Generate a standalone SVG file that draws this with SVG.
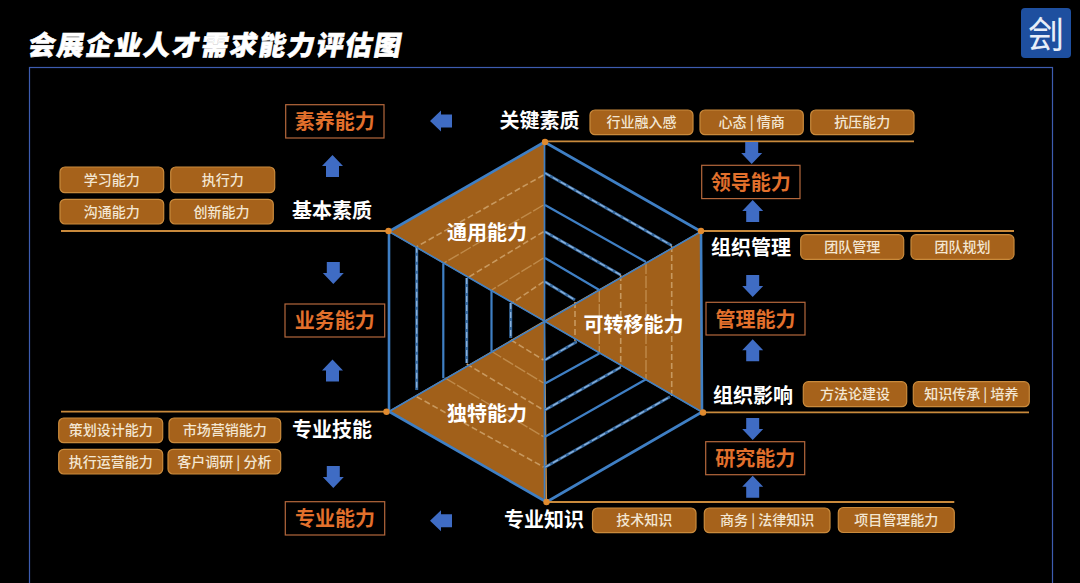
<svg xmlns="http://www.w3.org/2000/svg" width="1080" height="583" viewBox="0 0 1080 583">
<style>
text{font-family:"Noto Sans CJK SC","Noto Sans",sans-serif;text-anchor:middle;dominant-baseline:central}
.t{font-size:27px;font-weight:900;fill:#fff;letter-spacing:1.850px;text-anchor:start;stroke:#fff;stroke-width:.6px}
.tag rect{fill:#a6621b;stroke:#c98a3c;stroke-width:1.2}
.tag text{font-size:14px;font-weight:500;fill:#f3e6d2;transform:translateY(-1px)}
.cap rect{fill:#000;stroke:#b5683c;stroke-width:1.2}
.cap text{font-size:20px;font-weight:700;fill:#e2702c;transform:translateY(-1px)}
.lab{font-size:20px;font-weight:700;fill:#fff;transform:translateY(-1.500px)}
.rule{stroke:#c98a3c;stroke-width:1.8;fill:none}
.ar{fill:#3f6cc4}
.sec{fill:#a1601a;stroke:#c8934f;stroke-width:1.2}
.hex{fill:none;stroke:#3f7fc4;stroke-width:2.6;stroke-linejoin:round}
.spoke{stroke:#3f7fc4;stroke-width:1.6}
.bs{stroke:#3f7fc4;stroke-width:2.2;fill:none}
.bd{stroke:#36699f;stroke-width:3;fill:none}
.bdi{stroke:#8fb4dc;stroke-width:1.300;stroke-dasharray:6 3;fill:none}
.ps{stroke:#bf8a4a;stroke-width:1.4;stroke-dasharray:12 2;fill:none}
.pd{stroke:#c8995f;stroke-width:1.6;stroke-dasharray:6 3;fill:none}
.dot{fill:#e08a2e}
</style>
<defs>
<path id="up" class="ar" d="M0 0L10.500 11H6.500V22H-6.500V11H-10.500Z"/>
</defs>
<rect width="1080" height="583" fill="#000"/>
<text id="title" class="t" x="29" y="43" transform="translate(7.600 0) skewX(-10)">会展企业人才需求能力评估图</text>
<g id="logo"><rect x="1021" y="8" width="50" height="50" rx="4" fill="#1e4f9f"/><text x="1046" y="31.500" style="font-size:36px;font-weight:400;fill:#e8eef8">刽</text></g>
<rect id="frame" x="29.500" y="67.500" width="1023" height="530" fill="none" stroke="#3d5cb0" stroke-width="1.200"/>
<g id="hexagon">
<path class="sec" d="M544.500 321L544.500 142L389 231.500Z"/>
<path class="sec" d="M544.500 321L701 231.500L702 412Z"/>
<path class="sec" d="M544.500 321L389 411.500L546.500 502Z"/>
<g class="ps">
<path d="M543.500 205L443.300 263.300M543.500 258L491.700 290M646 262V379M599.300 290V353M445 378L543.500 436.700M491 351L543.500 383"/>
</g>
<g class="pd">
<path d="M543.500 175L416.700 246.700M543.500 231.700L466.700 278.300M543.500 281.700L511.700 303.300M671.700 246V396M620.700 275V367M575 302V341M416.700 396.700L543.500 467M466.700 364L543.500 410M511 340L543.500 360"/>
</g>
<g class="bs">
<path d="M545 205L646 262M545 258L599.300 290M545 383.500L599.300 353.500M545 436.700L646 379.300M443.300 263.300V378.300M491.500 290V351.700"/>
</g>
<g class="bd">
<path d="M545 173L671.700 245.500M545 231.700L620.700 275M545 281.700L575 300M545 360L576.700 341.700M545 410L620.700 367.300M545 467.300L670 396.700M416.700 246.700V390M466.700 278V363M510.700 303V338"/>
</g>
<g class="bdi">
<path d="M545 173L671.700 245.500M545 231.700L620.700 275M545 281.700L575 300M545 360L576.700 341.700M545 410L620.700 367.300M545 467.300L670 396.700M416.700 246.700V390M466.700 278V363M510.700 303V338"/>
</g>
<path class="hex" d="M544.500 142L701 231.500L702 412L546.500 502L389 411.500L389 231.500Z"/>
<path class="spoke" d="M544.500 142V502M389 231.500L702 412M389 411.500L701 231.500"/>
</g>
<g id="connectors">
<path class="rule" d="M545 141.300H914M700 231H1014M703 412.300H1029M546 502H954.300M61 231H389M61 411.700H388"/>
<use href="#up" transform="translate(751.700 164) rotate(180)"/>
<use href="#up" x="752.700" y="200"/>
<use href="#up" transform="translate(752.700 297) rotate(180)"/>
<use href="#up" x="752.700" y="339.300"/>
<use href="#up" transform="translate(752.700 440) rotate(180)"/>
<use href="#up" x="752.700" y="475.700"/>
<use href="#up" transform="translate(333.300 488) rotate(180)"/>
<use href="#up" x="332.500" y="359.500"/>
<use href="#up" transform="translate(333.300 284) rotate(180)"/>
<use href="#up" x="332.500" y="155"/>
<use href="#up" transform="translate(430 121) rotate(-90)"/>
<use href="#up" transform="translate(430 520.700) rotate(-90)"/>
</g>
<g id="dots">
<circle class="dot" cx="545" cy="142" r="3.200"/><circle class="dot" cx="701" cy="231" r="3.200"/><circle class="dot" cx="703" cy="412.500" r="3.200"/><circle class="dot" cx="546.500" cy="502" r="3.200"/><circle class="dot" cx="386.500" cy="411.700" r="3.200"/><circle class="dot" cx="388.500" cy="231" r="3.200"/>
</g>
<g id="sector-labels">
<text class="lab" x="487" y="233">通用能力</text>
<text class="lab" x="633.500" y="325">可转移能力</text>
<text class="lab" x="487" y="414">独特能力</text>
</g>
<g id="level-labels">
<text class="lab" x="539.500" y="121">关键素质</text>
<text class="lab" x="751" y="248">组织管理</text>
<text class="lab" x="753" y="396">组织影响</text>
<text class="lab" x="544" y="520">专业知识</text>
<text class="lab" x="332" y="430">专业技能</text>
<text class="lab" x="332" y="211">基本素质</text>
</g>
<g id="cap-suyang" class="cap"><rect x="285.700" y="104.700" width="98.300" height="33.300"/><text x="334.800" y="121.500">素养能力</text></g>
<g id="cap-lingdao" class="cap"><rect x="701.700" y="165.300" width="98.300" height="33.300"/><text x="750.800" y="182">领导能力</text></g>
<g id="cap-guanli" class="cap"><rect x="706" y="302.300" width="99" height="32.700"/><text x="755.500" y="319">管理能力</text></g>
<g id="cap-yanjiu" class="cap"><rect x="705.700" y="441.700" width="99" height="33"/><text x="755.200" y="458">研究能力</text></g>
<g id="cap-zhuanye" class="cap"><rect x="285.300" y="501.700" width="99.400" height="33.300"/><text x="335" y="518.500">专业能力</text></g>
<g id="cap-yewu" class="cap"><rect x="285" y="304" width="99.700" height="33"/><text x="334.800" y="320.500">业务能力</text></g>
<g id="tag-1" class="tag"><rect x="590" y="110" width="103" height="24.700" rx="5"/><text x="641.500" y="122.300">行业融入感</text></g>
<g id="tag-2" class="tag"><rect x="700" y="110" width="103.300" height="24.700" rx="5"/><text x="751.700" y="122.300">心态 | 情商</text></g>
<g id="tag-3" class="tag"><rect x="810.700" y="110" width="103.300" height="24.700" rx="5"/><text x="862.300" y="122.300">抗压能力</text></g>
<g id="tag-4" class="tag"><rect x="800.700" y="234.700" width="103" height="24.600" rx="5"/><text x="852.200" y="247">团队管理</text></g>
<g id="tag-5" class="tag"><rect x="911" y="234.700" width="103" height="24.600" rx="5"/><text x="962.500" y="247">团队规划</text></g>
<g id="tag-6" class="tag"><rect x="803.300" y="381.700" width="103.400" height="25" rx="5"/><text x="855" y="394.200">方法论建设</text></g>
<g id="tag-7" class="tag"><rect x="913.300" y="381.700" width="116" height="25" rx="5"/><text x="971.300" y="394.200">知识传承 | 培养</text></g>
<g id="tag-8" class="tag"><rect x="592.500" y="508" width="103.500" height="24.700" rx="5"/><text x="644.200" y="520.300">技术知识</text></g>
<g id="tag-9" class="tag"><rect x="704.300" y="508" width="125.700" height="24.700" rx="5"/><text x="767.200" y="520.300">商务 | 法律知识</text></g>
<g id="tag-10" class="tag"><rect x="838.300" y="507.500" width="116" height="25" rx="5"/><text x="896.300" y="520">项目管理能力</text></g>
<g id="tag-11" class="tag"><rect x="60" y="167" width="103.700" height="25.700" rx="5"/><text x="111.800" y="179.800">学习能力</text></g>
<g id="tag-12" class="tag"><rect x="170.700" y="167" width="104" height="25.700" rx="5"/><text x="222.700" y="179.800">执行力</text></g>
<g id="tag-13" class="tag"><rect x="60" y="199.300" width="103.700" height="24.700" rx="5"/><text x="111.800" y="211.600">沟通能力</text></g>
<g id="tag-14" class="tag"><rect x="170" y="199.300" width="103.300" height="24.700" rx="5"/><text x="221.600" y="211.600">创新能力</text></g>
<g id="tag-15" class="tag"><rect x="58.700" y="418" width="104" height="24.700" rx="5"/><text x="110.700" y="430.300">策划设计能力</text></g>
<g id="tag-16" class="tag"><rect x="169" y="418" width="111.700" height="24.700" rx="5"/><text x="224.800" y="430.300">市场营销能力</text></g>
<g id="tag-17" class="tag"><rect x="58.700" y="449.300" width="104" height="24.700" rx="5"/><text x="110.700" y="461.600">执行运营能力</text></g>
<g id="tag-18" class="tag"><rect x="168" y="449.300" width="112.700" height="24.700" rx="5"/><text x="224.300" y="461.600">客户调研 | 分析</text></g>
</svg>
